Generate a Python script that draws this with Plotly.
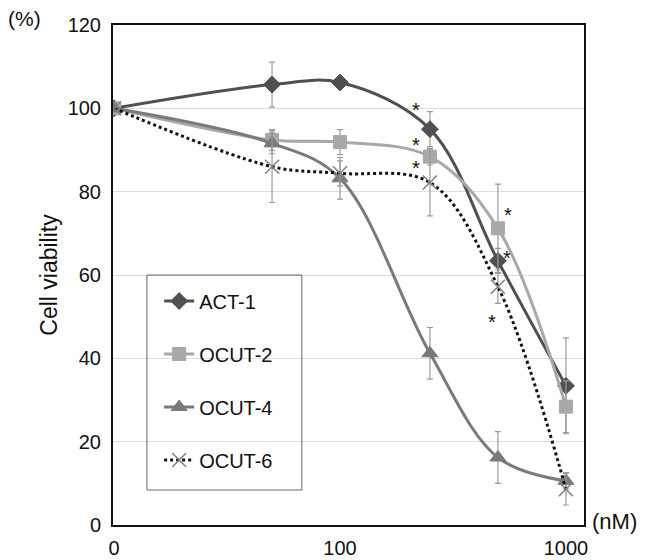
import math
import plotly.graph_objects as go

# concentration (nM); "0" is drawn at the first decade position
dose = [10, 50, 100, 250, 500, 1000]
tick_vals = [10, 100, 1000]
tick_text = ["0", "100", "1000"]

act1 = [100, 105.7, 106.2, 95.0, 63.4, 33.4]
act1_err = [0, 5.4, 1.0, 4.2, 3.0, 11.5]
ocut2 = [100, 92.4, 91.9, 88.4, 71.2, 28.4]
ocut2_err = [0, 2.5, 3.0, 2.0, 10.6, 6.2]
ocut4 = [100, 91.6, 83.2, 41.2, 16.2, 10.6]
ocut4_err = [0, 2.5, 5.0, 6.2, 6.2, 2.0]
ocut6 = [100, 86.0, 84.4, 82.2, 57.2, 8.6]
ocut6_err = [0, 8.6, 3.0, 8.0, 4.0, 3.8]

# significance marks: (dose position, y)
star_x = [216, 216, 216, 555, 550, 472]
star_y = [100.6, 92.2, 86.6, 75.4, 65.0, 49.7]

FONT = "Liberation Sans, Arial, sans-serif"
fig = go.Figure()

def add(name, y, err, color, symbol, dash, msize, mcolor=None, lw=3):
    fig.add_trace(go.Scatter(
        x=dose, y=y, name=name, legendgroup=name, mode="lines+markers",
        line=dict(color=color, width=lw, shape="spline", smoothing=1, dash=dash),
        marker=dict(symbol=symbol, size=msize, color=mcolor or color,
                    line=dict(width=1 if symbol != "x-thin" else 1.5, color=mcolor or color)),
        error_y=dict(type="data", array=err, visible=True, color="#9a9a9a",
                     thickness=1.2, width=3),
    ))

add("ACT-1", act1, act1_err, "#505050", "diamond", "solid", 13)
add("OCUT-2", ocut2, ocut2_err, "#a8a8a8", "square", "solid", 13)
add("OCUT-4", ocut4, ocut4_err, "#7a7a7a", "triangle-up", "solid", 14)
add("OCUT-6", ocut6, ocut6_err, "#111111", "x-thin", "dot", 14, mcolor="#808080")

for sx, sy in zip(star_x, star_y):
    fig.add_annotation(x=math.log10(sx), y=sy, text="*", showarrow=False,
                       font=dict(size=20, color="#111", family=FONT), yshift=-4)

fig.add_annotation(xref="paper", yref="paper", x=-0.187, y=1.0, text="(%)",
                   showarrow=False, xanchor="center", yanchor="middle",
                   font=dict(size=21, color="#111", family=FONT), yshift=7)
fig.add_annotation(xref="paper", yref="paper", x=1.013, y=0.0, text="(nM)",
                   showarrow=False, xanchor="left", yanchor="middle",
                   font=dict(size=22, color="#111", family=FONT), yshift=4)

# legend frame
fig.add_shape(type="rect", xref="paper", yref="paper", x0=0.072, x1=0.401,
              y0=0.07, y1=0.5, line=dict(color="#666", width=1))

fig.update_layout(
    width=638, height=552,
    margin=dict(l=105, r=62, t=17, b=35),
    paper_bgcolor="white", plot_bgcolor="white",
    font=dict(family=FONT, size=20, color="#111"),
    showlegend=True,
    legend=dict(x=0.098, y=0.487, xanchor="left", yanchor="top",
                borderwidth=0, bgcolor="rgba(0,0,0,0)",
                font=dict(size=20, family=FONT), tracegroupgap=24),
    xaxis=dict(type="log", range=[0.995, 3.08], tickvals=tick_vals, ticktext=tick_text,
               showgrid=False, showline=True, linecolor="#111", linewidth=2,
               mirror=True, ticks="", zeroline=False, tickfont=dict(size=20),
               automargin=False, ticklabelstandoff=4),
    yaxis=dict(range=[0, 120], dtick=20, showgrid=True, gridcolor="#dedede",
               showline=True, linecolor="#111", linewidth=2, mirror=True,
               ticks="", zeroline=False, tickfont=dict(size=20),
               automargin=False, ticklabelstandoff=6,
               title=dict(text="Cell viability", font=dict(size=23), standoff=4)),
)

fig.write_html("out.html")
